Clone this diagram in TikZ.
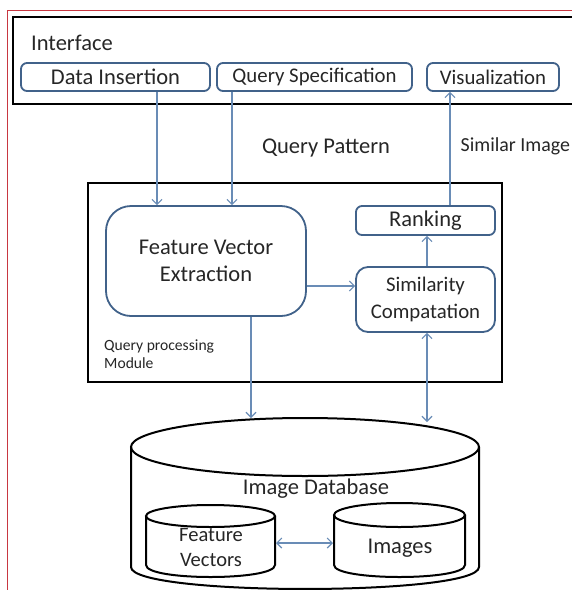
\documentclass[tikz,border=0pt]{standalone}
\usepackage{fontspec}
\setmainfont{Carlito}
\usetikzlibrary{arrows.meta}
\definecolor{boxblue}{RGB}{65,98,138}
\definecolor{arrblue}{RGB}{105,140,182}
\definecolor{txt}{RGB}{38,38,38}
\definecolor{redline}{RGB}{200,55,65}
\begin{document}
\begin{tikzpicture}[x=1pt,y=-1pt,
  fsA/.style={font=\fontsize{22.5}{27}\selectfont},
  fsB/.style={font=\fontsize{20.8}{27}\selectfont},
  fsS/.style={font=\fontsize{15.6}{18}\selectfont},
  blbox/.style={draw=boxblue, line width=1.8pt, text=txt, inner sep=0pt, align=center},
  lbl/.style={text=txt, inner sep=0pt},
  arr/.style={draw=arrblue, line width=1.1pt, -{Straight Barb[length=5pt,width=10pt]}},
  darr/.style={draw=arrblue, line width=1.1pt, {Straight Barb[length=5pt,width=10pt]}-{Straight Barb[length=5pt,width=10pt]}},
  frame/.style={draw=black, line width=2.4pt, inner sep=0pt},
  cyl/.style={draw=black, line width=2pt}
]
\useasboundingbox (0,0) rectangle (572,590);
\fill[white] (0,0) rectangle (572,590);
\clip (0,0) rectangle (572,590);
% red border
\draw[redline, line width=1.3pt] (7.5,595) -- (7.5,10.5) -- (580,10.5);
% interface frame
\node[frame, minimum width=577pt, minimum height=87pt] (ifc) at (301.5,60.5) {};
\node[lbl, fsA, anchor=west] (iface) at (31,43) {Interface};
\node[blbox, fsA, rounded corners=6pt, minimum width=189pt, minimum height=28pt] (di) at (115.5,77) {Data Insertion};
\node[blbox, fsB, rounded corners=6pt, minimum width=195pt, minimum height=28pt] (qs) at (314.5,77) {\raisebox{-1pt}{Query Specification}};
\node[blbox, fsB, rounded corners=6pt, minimum width=132pt, minimum height=28pt] (vis) at (493,77) {Visualization};
% labels between
\node[lbl, fsA] (qp) at (326,148) {Query Pattern};
\node[lbl, font=\fontsize{19.9}{24}\selectfont, anchor=west] (simimg) at (460.5,146) {Similar Image};
% query processing module
\node[frame, line width=2pt, minimum width=414pt, minimum height=199pt] (qpm) at (295,282.5) {};
\node[blbox, fsA, rounded corners=25pt, minimum width=200pt, minimum height=110pt] (fve) at (206,261) {Feature Vector\\Extraction};
\node[blbox, fsA, rounded corners=6pt, minimum width=139pt, minimum height=29pt] (rank) at (425.5,220.5) {\raisebox{-1.5pt}{Ranking}};
\node[blbox, fsB, rounded corners=12pt, minimum width=139pt, minimum height=65pt] (sim) at (425.5,299.5) {Similarity\\Compatation};
\node[lbl, fsS, anchor=west, align=left] (qpl) at (104,354) {Query processing\\Module};
% database cylinder
\draw[cyl] (305,447) ellipse [x radius=174, y radius=29];
\draw[cyl] (131,447) -- (131,567) .. controls (131,596.3) and (479,596.3) .. (479,567) -- (479,447);
\node[lbl, fsA] (dbl) at (316,489) {Image Database};
% feature vectors cylinder
\draw[cyl] (210.5,516) ellipse [x radius=64.5, y radius=11];
\draw[cyl] (146,516) -- (146,565) .. controls (146,581) and (275,581) .. (275,565) -- (275,516);
\node[lbl, font=\fontsize{20.5}{25}\selectfont, align=center] (fvl) at (211,547) {Feature\\Vectors};
% images cylinder
\draw[cyl] (399.5,515) ellipse [x radius=65.5, y radius=12];
\draw[cyl] (334,515) -- (334,565) .. controls (334,581) and (465,581) .. (465,565) -- (465,515);
\node[lbl, fsA] (iml) at (400,548) {Images};
% connector anchor points
\coordinate (xa) at (157,0);
\coordinate (xb) at (232,0);
\coordinate (xc) at (450,0);
\coordinate (ya) at (0,286);
\coordinate (xd) at (427,0);
\coordinate (dbtop1) at (251,418);
\coordinate (dbtop2) at (427,422);
\coordinate (fvR) at (276,543);
\coordinate (imL) at (333,543);
% connectors
\draw[arr] (di.south -| xa) -- (fve.north -| xa);
\draw[arr] (qs.south -| xb) -- (fve.north -| xb);
\draw[arr] (rank.north -| xc) -- (vis.south -| xc);
\draw[arr] (fve.east |- ya) -- (sim.west |- ya);
\draw[arr] (sim.north -| xd) -- (rank.south -| xd);
\draw[arr] (fve.south -| dbtop1) -- (dbtop1);
\draw[darr] (sim.south -| dbtop2) -- (dbtop2);
\draw[darr] (fvR) -- (imL);
\end{tikzpicture}
\end{document}
